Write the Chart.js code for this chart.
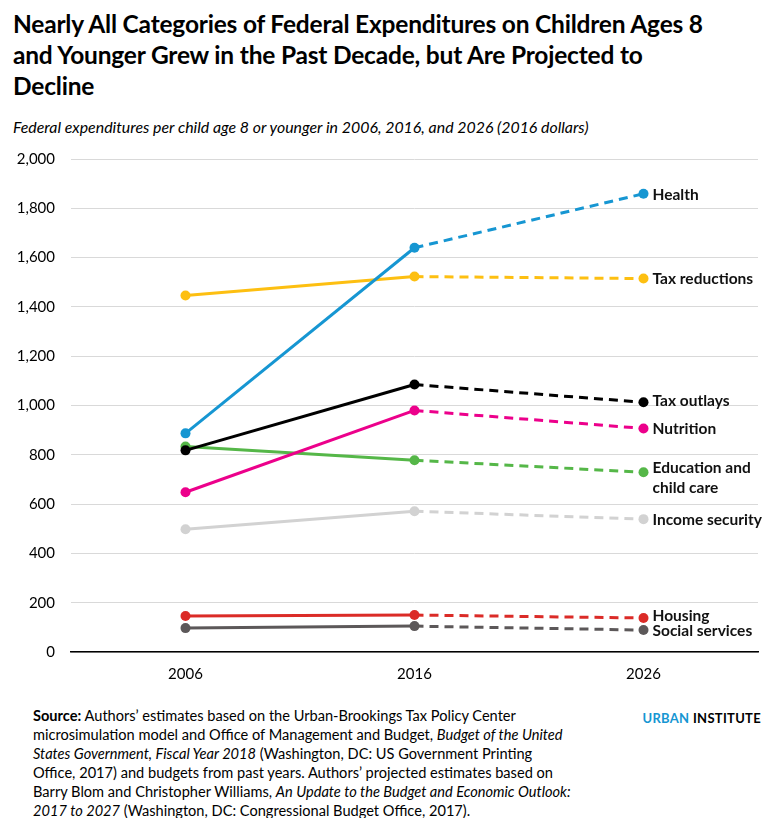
<!DOCTYPE html>
<html>
<head>
<meta charset="utf-8">
<script src="https://cdn.jsdelivr.net/npm/chart.js@4"></script>
<style>
  body { margin: 0; background: #fff; font-family: Lato, sans-serif; width: 781px; height: 818px; position: relative; overflow: hidden; }
  #title { position: absolute; left: 13px; top: 8px; font-size: 24.5px; font-weight: bold; line-height: 31px; color: #000; letter-spacing: -0.2px; }
  #subtitle { position: absolute; left: 13px; top: 117px; font-size: 15.9px; font-style: italic; color: #000; }
  #wrap { position: absolute; left: 0; top: 134px; width: 781px; height: 558px; }
  #source { position: absolute; left: 33px; top: 706px; font-size: 14.6px; line-height: 19px; color: #000; }
  #logo { position: absolute; right: 20px; top: 710px; font-size: 13px; font-weight: bold; letter-spacing: 0.3px; }
</style>
</head>
<body>
<div id="title">Nearly All Categories of Federal Expenditures on Children Ages 8<br>and Younger Grew in the Past Decade, but Are Projected to<br>Decline</div>
<div id="subtitle">Federal expenditures per child age 8 or younger in 2006, 2016, and 2026 (2016 dollars)</div>
<div id="wrap"><canvas id="chart"></canvas></div>
<div id="source"><b>Source:</b> Authors’ estimates based on the Urban-Brookings Tax Policy Center<br>microsimulation model and Office of Management and Budget, <i>Budget of the United</i><br><i>States Government, Fiscal Year 2018</i> (Washington, DC: US Government Printing<br>Office, 2017) and budgets from past years. Authors’ projected estimates based on<br>Barry Blom and Christopher Williams, <i>An Update to the Budget and Economic Outlook:</i><br><i>2017 to 2027</i> (Washington, DC: Congressional Budget Office, 2017).</div>
<div id="logo"><span style="color:#1696d2">URBAN</span> <span style="color:#000">INSTITUTE</span></div>
<script>
const years = ['2006', '2016', '2026'];

const health = [887, 1640, 1859];
const taxReductions = [1446, 1523, 1515];
const taxOutlays = [818, 1085, 1013];
const nutrition = [648, 980, 907];
const education = [834, 778, 729];
const incomeSecurity = [498, 571, 539];
const housing = [146, 150, 138];
const socialServices = [97, 105, 89];

const seriesNames = ['Health', 'Tax reductions', 'Tax outlays', 'Nutrition', 'Education and\nchild care', 'Income security', 'Housing', 'Social services'];
const seriesColors = ['#1696d2', '#fdbf11', '#000000', '#ec008b', '#55b748', '#d2d2d2', '#db2b27', '#5c5859'];
const seriesValues = [health, taxReductions, taxOutlays, nutrition, education, incomeSecurity, housing, socialServices];

// vertical nudges for end labels so they don't collide
const labelNudge = [1, 0, -1, 1, -4, 1, -2, 1];

const endLabels = {
    id: 'endLabels',
    afterDatasetsDraw(chart) {
        const ctx = chart.ctx;
        ctx.save();
        ctx.font = 'bold 15.5px Lato';
        ctx.fillStyle = '#111';
        ctx.textBaseline = 'middle';
        ctx.textAlign = 'left';
        chart.data.datasets.forEach(function (ds, i) {
            const pt = chart.getDatasetMeta(i).data[2];
            const lines = ds.label.split('\n');
            lines.forEach(function (line, j) {
                ctx.fillText(line, pt.x + 9, pt.y + labelNudge[i] + j * 20);
            });
        });
        ctx.restore();
    }
};

const datasets = seriesNames.map(function (name, i) {
    return {
        label: name,
        data: seriesValues[i],
        borderColor: seriesColors[i],
        backgroundColor: seriesColors[i],
        pointBackgroundColor: seriesColors[i],
        pointBorderWidth: 0,
        pointRadius: 5,
        borderWidth: 3,
        tension: 0,
        segment: {
            borderDash: function (c) { return c.p0DataIndex === 1 ? [9, 6] : undefined; }
        }
    };
});

new Chart(document.getElementById('chart'), {
    type: 'line',
    data: { labels: years, datasets: datasets },
    options: {
        responsive: true,
        maintainAspectRatio: false,
        animation: false,
        layout: { padding: { top: 12, right: 23, left: 0, bottom: 0 } },
        plugins: { legend: { display: false }, tooltip: { enabled: false } },
        scales: {
            x: {
                offset: true,
                grid: { display: false, drawTicks: false },
                border: { color: '#000', width: 1.5 },
                ticks: { color: '#000', font: { family: 'Lato', size: 15 }, padding: 13 },
                afterFit: function (s) { s.height = 40; }
            },
            y: {
                min: 0, max: 2000,
                grid: { color: '#d9d9d9', drawTicks: false },
                border: { display: false },
                ticks: {
                    stepSize: 200,
                    color: '#000',
                    font: { family: 'Lato', size: 15 },
                    padding: 16,
                    callback: function (v) { return v.toLocaleString('en-US'); }
                },
                afterFit: function (s) { s.width = 71; }
            }
        }
    },
    plugins: [endLabels]
});
</script>
</body>
</html>
